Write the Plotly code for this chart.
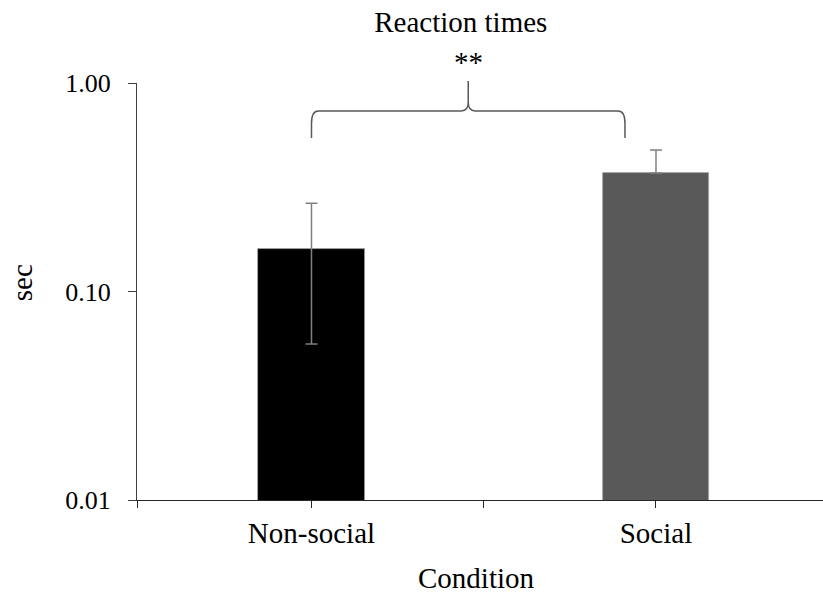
import plotly.graph_objects as go

# ---- data ----
categories = ["Non-social", "Social"]
means = [0.16, 0.37]
err_plus = [0.105, 0.107]
err_minus = [0.104, 0.0]
bar_colors = ["#000000", "#595959"]
y_tickvals = [0.01, 0.1, 1.0]
y_ticktext = ["0.01", "0.10", "1.00"]

FONT = "Liberation Serif"
x_pos = list(range(len(categories)))
X_RANGE = [-0.5065, 1.4848]

fig = go.Figure()
for i, cat in enumerate(categories):
    fig.add_trace(go.Bar(
        x=[x_pos[i]], y=[means[i]], width=0.31,
        marker=dict(color=bar_colors[i], line=dict(color="#a6a6a6", width=0.8)),
        error_y=dict(type="data", symmetric=False, array=[err_plus[i]],
                     arrayminus=[err_minus[i]], color="#808080",
                     thickness=1.5, width=6),
        name=cat, showlegend=False,
    ))

# brace between the two conditions (paper y, data x)
x0, x1 = 0.0, 0.91
xc = (x0 + x1) / 2
yb, yt, ypk = 0.868, 0.933, 1.005
dx, dy, cy = 0.02, 0.03, 0.02
path = (f"M {x0},{yb} L {x0},{yt-dy} Q {x0},{yt} {x0+dx},{yt} "
        f"L {xc-dx},{yt} Q {xc},{yt} {xc},{yt+cy} L {xc},{ypk} "
        f"M {xc},{yt+cy} Q {xc},{yt} {xc+dx},{yt} "
        f"L {x1-dx},{yt} Q {x1},{yt} {x1},{yt-dy} L {x1},{yb}")
fig.add_shape(type="path", path=path, xref="x", yref="paper",
              line=dict(color="#595959", width=1.5))

fig.add_annotation(text="**", x=xc, xref="x", y=1.05, yref="paper",
                   showarrow=False, font=dict(family=FONT, size=29, color="#000"),
                   xanchor="center", yanchor="middle")
fig.add_annotation(text="sec", x=-0.1676, xref="paper", y=0.52, yref="paper",
                   textangle=-90, showarrow=False, xanchor="center", yanchor="middle",
                   font=dict(family=FONT, size=29, color="#000"))
fig.add_annotation(text="Condition", x=0.4956, xref="paper", y=-0.187, yref="paper",
                   showarrow=False, xanchor="center", yanchor="middle",
                   font=dict(family=FONT, size=29, color="#000"))

fig.update_layout(
    width=823, height=594,
    margin=dict(l=137, r=0, t=83, b=94),
    paper_bgcolor="white", plot_bgcolor="white",
    title=dict(text="Reaction times", x=0.472, xref="paper", xanchor="center",
               y=1 - 22 / 594, yref="container", yanchor="middle",
               font=dict(family=FONT, size=29, color="#000")),
    bargap=0,
    xaxis=dict(range=X_RANGE, tickmode="array",
               tickvals=[X_RANGE[0], 0, 0.5, 1],
               ticktext=["", categories[0], "", categories[1]],
               ticks="outside", ticklen=7, tickwidth=1.2, tickcolor="#262626",
               showline=True, linecolor="#262626", linewidth=1.2,
               showgrid=False, zeroline=False,
               tickfont=dict(family=FONT, size=29, color="#000")),
    yaxis=dict(type="log", range=[-2, 0], tickmode="array",
               tickvals=y_tickvals, ticktext=y_ticktext,
               ticks="outside", ticklen=8, tickwidth=1.2, tickcolor="#404040",
               showline=True, linecolor="#404040", linewidth=1.2,
               showgrid=False, zeroline=False, ticklabelstandoff=12,
               tickfont=dict(family=FONT, size=26, color="#000")),
)

fig.write_html("out.html")
